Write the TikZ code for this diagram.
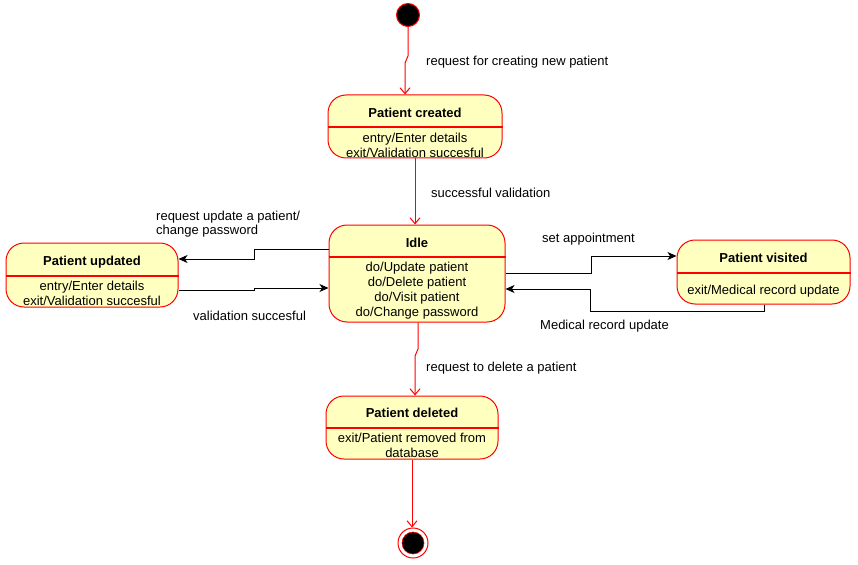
\documentclass[tikz,border=0pt]{standalone}
\usepackage{fontspec}
\setmainfont{Liberation Sans}
\usetikzlibrary{arrows.meta,calc}
\definecolor{sred}{HTML}{FF0000}
\definecolor{sfill}{HTML}{FFFFC0}
\begin{document}
\begin{tikzpicture}[x=1pt,y=-1pt,
  state/.style={draw=sred,fill=sfill,rounded corners=18pt,line width=1pt,inner sep=0pt},
  divider/.style={draw=sred,line width=1.2pt},
  ttl/.style={font=\fontsize{13}{15}\selectfont\bfseries,inner sep=0pt},
  body/.style={font=\fontsize{13}{15}\selectfont,align=center,inner sep=0pt},
  lbl/.style={font=\fontsize{13}{14}\selectfont,anchor=west,inner sep=0pt,align=left},
  redge/.style={draw=sred,line width=1pt,-{Straight Barb[length=6pt,width=10pt,line width=1pt]}},
  bedge/.style={draw=black,line width=1pt,-{Stealth[length=9pt,width=8pt,inset=2.5pt]}}]
\useasboundingbox (0,0) rectangle (858,564);
\fill[white] (0,0) rectangle (858,564);

% initial / final
\node[circle,fill=black,draw=sred,line width=1pt,minimum size=23pt,inner sep=0pt] (start) at (408,15) {};
\node[circle,fill=white,draw=sred,line width=1pt,minimum size=30pt,inner sep=0pt] (end) at (413,543) {};
\node[circle,fill=black,draw=sred,line width=0.6pt,minimum size=22pt,inner sep=0pt] (endin) at (end.center) {};

% states
\node[state,minimum width=174pt,minimum height=63pt] (created) at (415,126.5) {};
\path[divider] ($(created.north west)+(0,32.5)$) -- ($(created.north east)+(0,32.5)$);
\node[ttl] (createdT) at (415,113) {Patient created};
\node[body] (createdB) at (415,145) {entry/Enter details\\exit/Validation succesful};

\node[state,minimum width=176pt,minimum height=97pt] (idle) at (417,273.5) {};
\path[divider] ($(idle.north west)+(0,32.5)$) -- ($(idle.north east)+(0,32.5)$);
\node[ttl] (idleT) at (417,243) {Idle};
\node[body] (idleB) at (417,291) {do/Update patient\\do/Delete patient\\do/Visit patient\\do/Change password};

\node[state,minimum width=172pt,minimum height=64pt] (updated) at (92,275) {};
\path[divider] ($(updated.north west)+(0,33.5)$) -- ($(updated.north east)+(0,33.5)$);
\node[ttl] (updatedT) at (92,262) {Patient updated};
\node[body] (updatedB) at (92,293) {entry/Enter details\\exit/Validation succesful};

\node[state,minimum width=173pt,minimum height=64pt] (visited) at (763.5,272) {};
\path[divider] ($(visited.north west)+(0,33.5)$) -- ($(visited.north east)+(0,33.5)$);
\node[ttl] (visitedT) at (763.5,258) {Patient visited};
\node[body] (visitedB) at (763.5,291) {exit/Medical record update};

\node[state,minimum width=172pt,minimum height=63pt] (deleted) at (412,427.5) {};
\path[divider] ($(deleted.north west)+(0,32.5)$) -- ($(deleted.north east)+(0,32.5)$);
\node[ttl] (deletedT) at (412,413) {Patient deleted};
\node[body] (deletedB) at (412,445.5) {exit/Patient removed from\\database};

% waypoints
\coordinate (c0) at (408,56);
\coordinate (c1) at (405,63);
\coordinate (k1) at (254,249);
\coordinate (k2) at (254,259);
\coordinate (k3) at (254,290);
\coordinate (k4) at (254,288);
\coordinate (k5) at (591,273);
\coordinate (k6) at (591,256);
\coordinate (k7) at (764,311);
\coordinate (k8) at (590,311);
\coordinate (k9) at (590,289);
\coordinate (k10) at (418,349);
\coordinate (k11) at (415,356);

% connectors
\draw[redge] (start.south) -- (c0) -- (c1) -- (c1 |- created.north);
\draw[redge] (created.south) -- (created.south |- idle.north);
\draw[bedge] (idle.west |- k1) -- (k1) -- (k2) -- (updated.east |- k2);
\draw[bedge] (updated.east |- k3) -- (k3) -- (k4) -- (idle.west |- k4);
\draw[bedge] (idle.east |- k5) -- (k5) -- (k6) -- (visited.west |- k6);
\draw[bedge] (visited.south -| k7) -- (k7) -- (k8) -- (k9) -- (idle.east |- k9);
\draw[redge] (idle.south -| k10) -- (k10) -- (k11) -- (k11 |- deleted.north);
\draw[redge] (deleted.south) -- (deleted.south |- end.north);

% labels
\node[lbl] (l1) at (426,62) {request for creating new patient};
\node[lbl] (l2) at (431,193) {successful validation};
\node[lbl] (l3) at (156,224) {request update a patient/\\change password};
\node[lbl] (l4) at (193,316) {validation succesful};
\node[lbl] (l5) at (542,239) {set appointment};
\node[lbl] (l6) at (540,326) {Medical record update};
\node[lbl] (l7) at (426,368) {request to delete a patient};
\end{tikzpicture}
\end{document}
